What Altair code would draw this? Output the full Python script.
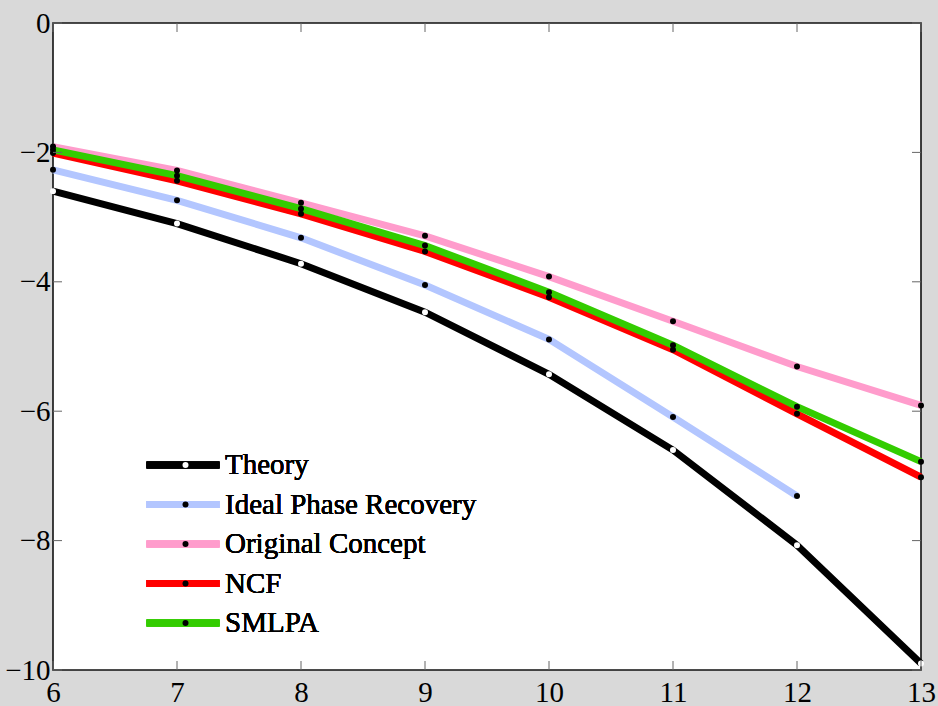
import altair as alt
import pandas as pd

x_vals = [6, 7, 8, 9, 10, 11, 12, 13]
theory = [-2.60, -3.10, -3.72, -4.47, -5.43, -6.60, -8.07, -9.90]
ideal = [-2.27, -2.74, -3.32, -4.05, -4.89, -6.09, -7.31]
original = [-1.91, -2.28, -2.78, -3.29, -3.92, -4.61, -5.31, -5.91]
ncf = [-2.01, -2.44, -2.95, -3.53, -4.24, -5.05, -6.04, -7.02]
smlpa = [-1.96, -2.36, -2.87, -3.44, -4.16, -4.98, -5.93, -6.78]

series_names = ["Theory", "Ideal Phase Recovery", "Original Concept", "NCF", "SMLPA"]
series_values = [theory, ideal, original, ncf, smlpa]
line_colors = ["#000000", "#b3c6ff", "#ff9ccc", "#ff0000", "#33cc00"]
dot_colors = ["#ffffff", "#000000", "#000000", "#000000", "#000000"]

x_ticks = [6, 7, 8, 9, 10, 11, 12, 13]
y_ticks = [-10, -8, -6, -4, -2, 0]

W, H = 868, 647
FONT = "Times New Roman"

rows = []
for name, vals in zip(series_names, series_values):
    for xv, yv in zip(x_vals, vals):
        rows.append({"x": xv, "y": yv, "series": name})
df = pd.DataFrame(rows)

xscale = alt.Scale(domain=[6, 13], nice=False, zero=False)
yscale = alt.Scale(domain=[-10, 0], nice=False, zero=False)
xaxis = alt.Axis(values=x_ticks, title=None, domain=False, ticks=False, grid=False,
                 labelFont=FONT, labelFontSize=29, labelColor="black", labelPadding=8,
                 labelOverlap=False, labelFlush=False)
yaxis = alt.Axis(values=y_ticks, title=None, domain=False, ticks=False, grid=False,
                 labelFont=FONT, labelFontSize=29, labelColor="black", labelPadding=3,
                 labelOverlap=False, labelFlush=False)

stroke_scale = alt.Scale(domain=series_names, range=line_colors)
fill_scale = alt.Scale(domain=series_names, range=dot_colors)

LX, LY = 90, 428
RP = 10.5
stroke_legend = alt.Legend(orient="none", legendX=LX, legendY=LY, title=None,
                           symbolType="stroke", symbolSize=5329, symbolStrokeWidth=7,
                           clipHeight=28, rowPadding=RP, labelFont=FONT, labelFontSize=29,
                           labelOffset=2, labelColor="black", padding=0, labelLimit=500)
fill_legend = alt.Legend(orient="none", legendX=LX + 28, legendY=LY, title=None,
                         symbolType="circle", symbolSize=36, symbolStrokeWidth=0,
                         symbolOpacity=1, clipHeight=28, rowPadding=RP, labelFont=FONT,
                         labelFontSize=29, labelExpr="''", padding=0)

layers = []
for name in series_names:
    layers.append(
        alt.Chart(df[df.series == name]).mark_line(strokeWidth=7, strokeCap="butt", strokeJoin="miter").encode(
            x=alt.X("x:Q", scale=xscale, axis=xaxis),
            y=alt.Y("y:Q", scale=yscale, axis=yaxis),
            stroke=alt.Stroke("series:N", scale=stroke_scale, legend=stroke_legend),
        )
    )

points = alt.Chart(df).mark_circle(size=36, opacity=1, strokeWidth=0).encode(
    x=alt.X("x:Q", scale=xscale, axis=xaxis),
    y=alt.Y("y:Q", scale=yscale, axis=yaxis),
    fill=alt.Fill("series:N", scale=fill_scale, legend=fill_legend),
)

xt = pd.DataFrame({"x": x_ticks})
yt = pd.DataFrame({"y": y_ticks})
TICK = 9
tick_color = "#666666"
bottom_ticks = alt.Chart(xt).mark_rule(color=tick_color, strokeWidth=1).encode(
    x=alt.X("x:Q", scale=xscale, axis=xaxis), y=alt.value(H), y2=alt.value(H - TICK))
top_ticks = alt.Chart(xt).mark_rule(color=tick_color, strokeWidth=1).encode(
    x=alt.X("x:Q", scale=xscale, axis=xaxis), y=alt.value(0), y2=alt.value(TICK))
left_ticks = alt.Chart(yt).mark_rule(color=tick_color, strokeWidth=1).encode(
    y=alt.Y("y:Q", scale=yscale, axis=yaxis), x=alt.value(0), x2=alt.value(TICK))
right_ticks = alt.Chart(yt).mark_rule(color=tick_color, strokeWidth=1).encode(
    y=alt.Y("y:Q", scale=yscale, axis=yaxis), x=alt.value(W), x2=alt.value(W - TICK))

chart = alt.layer(*layers, points, bottom_ticks, top_ticks, left_ticks, right_ticks).resolve_scale(
    stroke="independent", fill="independent"
).properties(
    width=W, height=H,
    autosize=alt.AutoSizeParams(type="none"),
    padding={"left": 53, "top": 23, "right": 17, "bottom": 36},
    background="#d9d9d9",
).configure_view(
    fill="white", stroke="#111111", strokeWidth=1.6
)

chart.save("out.html", embed_options={"renderer": "svg", "actions": False})
